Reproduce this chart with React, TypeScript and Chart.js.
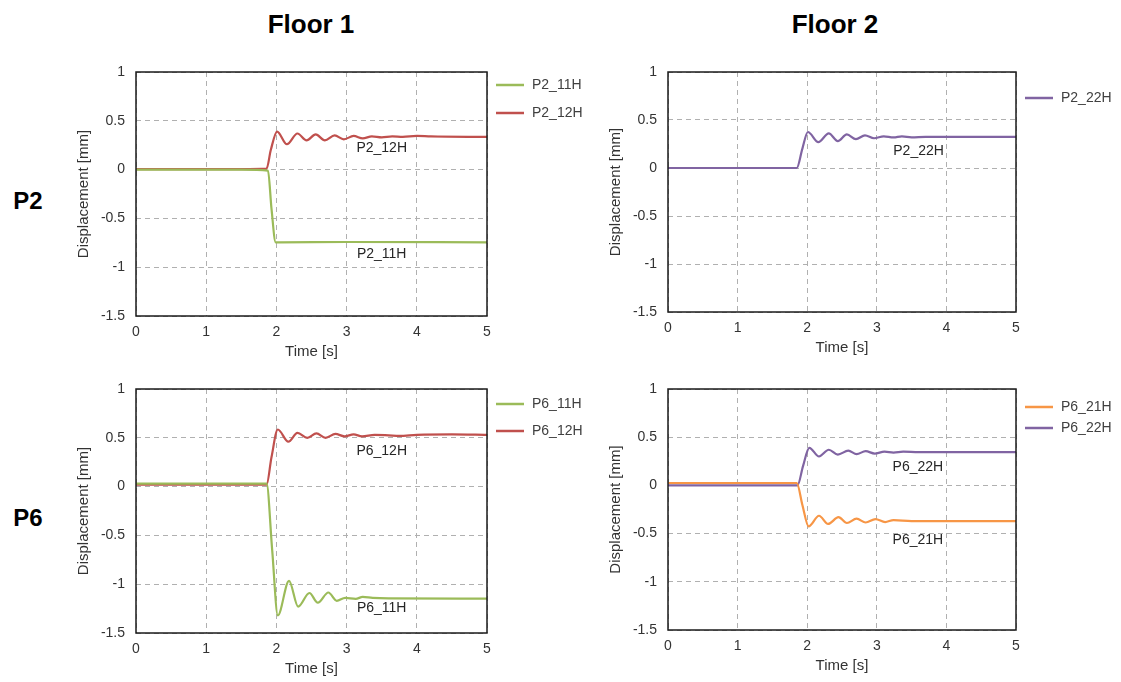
import React, { useEffect, useRef } from "react";
import { Chart, registerables } from "chart.js";
Chart.register(...registerables);

const FONT = "'Liberation Sans', Arial, sans-serif";

// Axis ranges / ticks
const timeRange = [0, 5];
const timeStep = 1;
const dispRange = [-1.5, 1];
const dispStep = 0.5;

const columnTitles = ["Floor 1", "Floor 2"];
const rowTitles = ["P2", "P6"];

// ---- Series data (time [s], displacement [mm]) ----
const p2_11H_t = [0, 1.5, 1.88, 1.93, 1.99, 2.05, 3, 5];
const p2_11H_y = [0, 0, -0.01, -0.4, -0.745, -0.745, -0.742, -0.745];

const p2_12H_t = [0, 1.5, 1.86, 1.92, 2.01, 2.15, 2.3, 2.43, 2.56, 2.69, 2.83, 2.96, 3.1, 3.23, 3.36, 3.5, 3.65, 3.8, 4.0, 4.2, 5];
const p2_12H_y = [0.005, 0.005, 0.01, 0.2, 0.39, 0.26, 0.37, 0.3, 0.36, 0.3, 0.35, 0.31, 0.345, 0.32, 0.34, 0.33, 0.34, 0.335, 0.345, 0.34, 0.335];

const p2_22H_t = [0, 1.85, 1.93, 2.01, 2.16, 2.31, 2.44, 2.57, 2.7, 2.83, 2.96, 3.1, 3.24, 3.36, 3.5, 3.7, 5];
const p2_22H_y = [0, 0, 0.2, 0.375, 0.27, 0.36, 0.28, 0.35, 0.3, 0.34, 0.31, 0.33, 0.318, 0.33, 0.32, 0.325, 0.325];

const p6_11H_t = [0, 1.86, 1.94, 2.02, 2.18, 2.31, 2.47, 2.59, 2.74, 2.86, 2.98, 3.13, 3.23, 3.37, 3.6, 5];
const p6_11H_y = [0.03, 0.03, -0.65, -1.32, -0.965, -1.23, -1.09, -1.19, -1.085, -1.17, -1.14, -1.15, -1.13, -1.14, -1.145, -1.147];

const p6_12H_t = [0, 1.86, 1.93, 2.02, 2.17, 2.3, 2.44, 2.57, 2.7, 2.84, 2.97, 3.1, 3.22, 3.4, 3.6, 3.75, 4, 4.5, 5];
const p6_12H_y = [0.02, 0.02, 0.3, 0.585, 0.46, 0.55, 0.5, 0.545, 0.5, 0.54, 0.515, 0.535, 0.515, 0.53, 0.525, 0.52, 0.53, 0.535, 0.53];

const p6_21H_t = [0, 1.85, 1.93, 2.02, 2.17, 2.3, 2.45, 2.57, 2.71, 2.84, 2.98, 3.12, 3.24, 3.5, 5];
const p6_21H_y = [0.025, 0.025, -0.2, -0.425, -0.315, -0.4, -0.33, -0.39, -0.345, -0.385, -0.35, -0.38, -0.36, -0.37, -0.37];

const p6_22H_t = [0, 1.86, 1.94, 2.03, 2.17, 2.31, 2.44, 2.59, 2.71, 2.84, 2.97, 3.11, 3.24, 3.38, 3.6, 4, 5];
const p6_22H_y = [0, 0, 0.2, 0.39, 0.3, 0.37, 0.32, 0.36, 0.325, 0.355, 0.33, 0.35, 0.34, 0.35, 0.345, 0.345, 0.345];

const GREEN = "#9BBB59";
const RED = "#C0504D";
const PURPLE = "#8064A2";
const ORANGE = "#F79646";

type Series = {
  name: string;
  color: string;
  t: number[];
  y: number[];
  legendDy: number;
  labelX: number;
  labelY: number;
};

type Panel = {
  plotLeft: number;
  plotTop: number;
  plotW: number;
  plotH: number;
  rightPad: number;
  series: Series[];
};

const panels: Panel[] = [
  {
    plotLeft: 136, plotTop: 72, plotW: 351, plotH: 244, rightPad: 110,
    series: [
      { name: "P2_11H", color: GREEN, t: p2_11H_t, y: p2_11H_y, legendDy: 13, labelX: 3.5, labelY: -0.865 },
      { name: "P2_12H", color: RED, t: p2_12H_t, y: p2_12H_y, legendDy: 41, labelX: 3.5, labelY: 0.22 },
    ],
  },
  {
    plotLeft: 668, plotTop: 72, plotW: 348, plotH: 240, rightPad: 105,
    series: [
      { name: "P2_22H", color: PURPLE, t: p2_22H_t, y: p2_22H_y, legendDy: 26, labelX: 3.6, labelY: 0.18 },
    ],
  },
  {
    plotLeft: 136, plotTop: 389, plotW: 351, plotH: 244, rightPad: 110,
    series: [
      { name: "P6_11H", color: GREEN, t: p6_11H_t, y: p6_11H_y, legendDy: 15, labelX: 3.5, labelY: -1.25 },
      { name: "P6_12H", color: RED, t: p6_12H_t, y: p6_12H_y, legendDy: 42, labelX: 3.5, labelY: 0.365 },
    ],
  },
  {
    plotLeft: 668, plotTop: 389, plotW: 348, plotH: 241, rightPad: 105,
    series: [
      { name: "P6_21H", color: ORANGE, t: p6_21H_t, y: p6_21H_y, legendDy: 18, labelX: 3.59, labelY: -0.566 },
      { name: "P6_22H", color: PURPLE, t: p6_22H_t, y: p6_22H_y, legendDy: 39, labelX: 3.59, labelY: 0.19 },
    ],
  },
];

const Y_AXIS_W = 70;
const X_AXIS_H = 55;
const TOP_PAD = 20;

function PanelChart({ panel }: { panel: Panel }) {
  const ref = useRef<HTMLCanvasElement | null>(null);
  const width = Y_AXIS_W + panel.plotW + panel.rightPad;
  const height = TOP_PAD + panel.plotH + X_AXIS_H;

  useEffect(() => {
    if (!ref.current) return;
    const decor = {
      id: "decor",
      afterDatasetsDraw(chart: any) {
        const { ctx, chartArea } = chart;
        const xs = chart.scales.x;
        const ys = chart.scales.y;
        ctx.save();
        // plot border
        ctx.strokeStyle = "#1a1a1a";
        ctx.lineWidth = 1.5;
        ctx.setLineDash([]);
        ctx.strokeRect(chartArea.left, chartArea.top, chartArea.right - chartArea.left, chartArea.bottom - chartArea.top);
        // inline labels
        ctx.font = `14px ${FONT}`;
        ctx.fillStyle = "#262626";
        ctx.textAlign = "center";
        ctx.textBaseline = "middle";
        panel.series.forEach((s) => {
          ctx.fillText(s.name, xs.getPixelForValue(s.labelX), ys.getPixelForValue(s.labelY));
        });
        // legend
        ctx.textAlign = "left";
        panel.series.forEach((s) => {
          const y = chartArea.top + s.legendDy;
          ctx.strokeStyle = s.color;
          ctx.lineWidth = 2.5;
          ctx.beginPath();
          ctx.moveTo(chartArea.right + 9, y);
          ctx.lineTo(chartArea.right + 37, y);
          ctx.stroke();
          ctx.fillStyle = "#404040";
          ctx.fillText(s.name, chartArea.right + 45, y);
        });
        ctx.restore();
      },
    };

    const fmt = (v: any) => String(Number(v));

    const chart = new Chart(ref.current, {
      type: "line",
      data: {
        datasets: panel.series.map((s) => ({
          label: s.name,
          data: s.t.map((t, i) => ({ x: t, y: s.y[i] })),
          borderColor: s.color,
          backgroundColor: s.color,
          borderWidth: 2.2,
          pointRadius: 0,
          cubicInterpolationMode: "monotone" as const,
          fill: false,
        })),
      },
      options: {
        animation: false,
        responsive: false,
        events: [],
        layout: { padding: { left: 0, top: TOP_PAD, right: panel.rightPad, bottom: 0 } },
        plugins: { legend: { display: false }, tooltip: { enabled: false } },
        scales: {
          x: {
            type: "linear",
            min: timeRange[0],
            max: timeRange[1],
            afterFit: (s: any) => { s.height = X_AXIS_H; },
            ticks: { stepSize: timeStep, padding: 8, color: "#333", font: { family: FONT, size: 14 }, maxRotation: 0, callback: fmt },
            grid: { color: "#b0b0b0", lineWidth: 1, drawTicks: false },
            border: { display: false, dash: [5, 4] },
            title: { display: true, text: "Time [s]", color: "#333", font: { family: FONT, size: 15 }, padding: { top: 0, bottom: 10 } },
          },
          y: {
            type: "linear",
            min: dispRange[0],
            max: dispRange[1],
            afterFit: (s: any) => { s.width = Y_AXIS_W; },
            ticks: { stepSize: dispStep, padding: 11, color: "#333", font: { family: FONT, size: 14 }, callback: fmt },
            grid: { color: "#b0b0b0", lineWidth: 1, drawTicks: false },
            border: { display: false, dash: [5, 4] },
            title: { display: true, text: "Displacement [mm]", color: "#333", font: { family: FONT, size: 15 }, padding: { top: 9, bottom: 0 } },
          },
        },
      },
      plugins: [decor],
    } as any);
    return () => chart.destroy();
  }, [panel]);

  return (
    <canvas
      ref={ref}
      width={width}
      height={height}
      style={{
        position: "absolute",
        left: panel.plotLeft - Y_AXIS_W,
        top: panel.plotTop - TOP_PAD,
        width,
        height,
      }}
    />
  );
}

export default function App() {
  const titleStyle: React.CSSProperties = {
    position: "absolute",
    fontFamily: FONT,
    fontWeight: "bold",
    color: "#000",
    whiteSpace: "nowrap",
    textAlign: "center",
  };
  return (
    <div
      style={{
        position: "fixed",
        left: 0,
        top: 0,
        width: 1121,
        height: 682,
        background: "#fff",
        overflow: "hidden",
      }}
    >
      {panels.map((p, i) => (
        <PanelChart key={i} panel={p} />
      ))}
      <div style={{ ...titleStyle, left: 211, width: 200, top: 11, fontSize: 26, lineHeight: "26px" }}>{columnTitles[0]}</div>
      <div style={{ ...titleStyle, left: 735, width: 200, top: 11, fontSize: 26, lineHeight: "26px" }}>{columnTitles[1]}</div>
      <div style={{ ...titleStyle, left: 0, width: 56, top: 189, fontSize: 24, lineHeight: "24px" }}>{rowTitles[0]}</div>
      <div style={{ ...titleStyle, left: 0, width: 56, top: 506, fontSize: 24, lineHeight: "24px" }}>{rowTitles[1]}</div>
    </div>
  );
}
